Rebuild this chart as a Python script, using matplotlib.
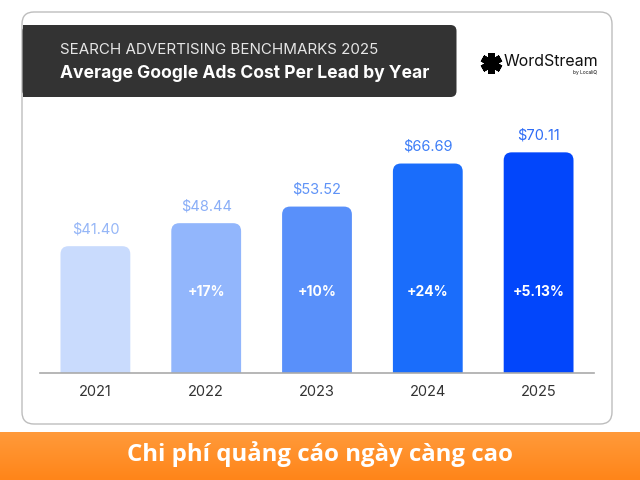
import matplotlib
matplotlib.use("Agg")
import matplotlib.pyplot as plt
import numpy as np
from matplotlib.patches import FancyBboxPatch, Rectangle
from matplotlib.colors import LinearSegmentedColormap

years = ["2021", "2022", "2023", "2024", "2025"]
values = [41.40, 48.44, 53.52, 66.69, 70.11]
value_labels = ["$41.40", "$48.44", "$53.52", "$66.69", "$70.11"]
growth_labels = ["", "+17%", "+10%", "+24%", "+5.13%"]
bar_colors = ["#C9DBFD", "#92B6FC", "#5990FA", "#1A6DFB", "#0246FB"]
label_colors = ["#95B6F7", "#8AAEF7", "#5F93F7", "#3D7DF7", "#2E6CF6"]

title1 = "SEARCH ADVERTISING BENCHMARKS 2025"
title2 = "Average Google Ads Cost Per Lead by Year"
banner = "Chi phí quảng cáo ngày càng cao"

W, H = 640, 480
fig = plt.figure(figsize=(6.4, 4.8), dpi=100)
fig.patch.set_facecolor("white")

ov = fig.add_axes([0, 0, 1, 1])
ov.axis("off")
ov.set_zorder(0)

# card
ov.add_patch(FancyBboxPatch((22, 12), 590, 412, boxstyle="round,pad=0,rounding_size=12",
                            facecolor="white", edgecolor="#BDBDBD", linewidth=1.0))
# header
ov.add_patch(FancyBboxPatch((22.5, 25), 434, 72, boxstyle="round,pad=0,rounding_size=6",
                            facecolor="#333333", edgecolor="none"))
ov.add_patch(Rectangle((22.5, 25), 12, 72, facecolor="#333333", edgecolor="none"))
ov.text(60, 50, title1, color="#E6E6E6", fontsize=10.9, family="Inter", va="center", ha="left")
ov.text(60, 73, title2, color="white", fontsize=12.6, family="Inter", fontweight="bold",
        va="center", ha="left")

# logo
ov.plot([491], [63], marker=(6, 2, 0), markersize=15, markeredgewidth=5, color="black")
ov.text(504, 62, "WordStream", fontsize=11.5, family="Inter", va="center", ha="left", color="#111111")
ov.text(597, 72.5, "by LocaliQ", fontsize=3.5, family="Inter", va="center", ha="right", color="#111111")

# orange banner gradient
grad = np.linspace(0, 1, 50).reshape(-1, 1)
cmap = LinearSegmentedColormap.from_list("o", ["#FF9A3A", "#FF8519"])
ov.imshow(grad, cmap=cmap, extent=(0, W, 480, 432), aspect="auto", zorder=1)
ov.text(320, 454, banner, color="white", fontsize=17.3, family="Open Sans", fontweight="bold",
        ha="center", va="center", zorder=2)
ov.set_xlim(0, W)
ov.set_ylim(H, 0)

# chart axes
base_px = 373
top_px = 121
left_px, right_px = 40, 594
y0, y1 = 2.6, 79.7
ax = fig.add_axes([left_px / W, (H - base_px) / H, (right_px - left_px) / W, (base_px - top_px) / H])
ax.set_zorder(2)
ax.patch.set_alpha(0)
x = np.arange(len(years))
bars = ax.bar(x, values, width=0.63, color="none")
ax.set_xlim(-0.5, len(years) - 0.5)
ax.set_ylim(y0, y1)

ax_w_px = right_px - left_px
ax_h_px = base_px - top_px
units_x_per_px = len(years) / ax_w_px
units_y_per_px = (y1 - y0) / ax_h_px
aspect = units_y_per_px / units_x_per_px
r = 8 * units_x_per_px
for b, c in zip(bars, bar_colors):
    b.set_visible(False)
    xx, w, hh = b.get_x(), b.get_width(), b.get_height()
    p = FancyBboxPatch((xx, -10), w, hh + 10, boxstyle=f"round,pad=0,rounding_size={r}",
                       mutation_aspect=aspect, facecolor=c, edgecolor="none")
    ax.add_patch(p)

for i, (v, lab, col) in enumerate(zip(values, value_labels, label_colors)):
    ax.annotate(lab, (x[i], v), xytext=(0, 7), textcoords="offset points", ha="center",
                va="bottom", fontsize=10.5, color=col, family="Inter")
    if growth_labels[i]:
        ax.text(x[i], 27.4, growth_labels[i], ha="center", va="center", fontsize=10,
                color="white", fontweight="bold", family="Inter")

for s in ["top", "right", "left"]:
    ax.spines[s].set_visible(False)
ax.spines["bottom"].set_color("#AAAAAA")
ax.spines["bottom"].set_linewidth(1.2)
ax.set_yticks([])
ax.set_xticks(x)
ax.set_xticklabels(years, fontsize=10.5, color="#333333", family="Inter")
ax.tick_params(axis="x", length=0, pad=9)

fig.savefig("out.png", dpi=100)
